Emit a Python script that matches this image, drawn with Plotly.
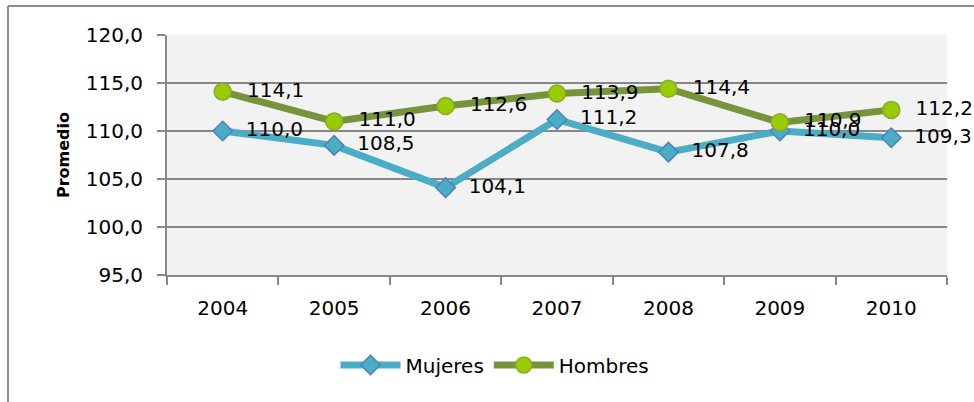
import plotly.graph_objects as go

years = ["2004", "2005", "2006", "2007", "2008", "2009", "2010"]
mujeres = [110.0, 108.5, 104.1, 111.2, 107.8, 110.0, 109.3]
hombres = [114.1, 111.0, 112.6, 113.9, 114.4, 110.9, 112.2]
y_ticks = [95, 100, 105, 110, 115, 120]


def fmt(v):
    return f"{v:.1f}".replace(".", ",")


FONT = "DejaVu Sans"
FS = 20

fig = go.Figure()
fig.add_trace(go.Scatter(
    x=years, y=mujeres, name="Mujeres", mode="lines+markers+text",
    line=dict(color="#4BACC6", width=7),
    marker=dict(symbol="diamond", size=15, color="#4BACC6",
                line=dict(color="#4F81BD", width=1.5)),
    text=["  " + fmt(v) for v in mujeres], textposition="middle right",
    textfont=dict(family=FONT, size=FS, color="#000000"),
    cliponaxis=False,
))
fig.add_trace(go.Scatter(
    x=years, y=hombres, name="Hombres", mode="lines+markers+text",
    line=dict(color="#77933C", width=7),
    marker=dict(symbol="circle", size=17, color="#99CC00",
                line=dict(color="#8AAA2A", width=1.5)),
    text=["  " + fmt(v) for v in hombres], textposition="middle right",
    textfont=dict(family=FONT, size=FS, color="#000000"),
    cliponaxis=False,
))

L, R, T, B = 167, 27, 35, 127
W, H = 974, 402
pw, ph = W - L - R, H - T - B


def px(xp):
    return (xp - L) / pw


def py(yp):
    return (H - B - yp) / ph


fig.update_layout(
    width=W, height=H,
    margin=dict(l=L, r=R, t=T, b=B),
    paper_bgcolor="white", plot_bgcolor="#F2F2F2",
    font=dict(family=FONT, size=FS, color="#000000"),
    separators=",.",
    showlegend=True,
    legend=dict(orientation="h", x=px(495), xanchor="center", y=py(365), yanchor="middle",
                font=dict(family=FONT, size=FS), itemwidth=60, bgcolor="rgba(0,0,0,0)"),
    xaxis=dict(type="category", range=[-0.5, 6.5], tickson="boundaries",
               ticks="outside", ticklen=8, tickcolor="#878787", tickwidth=2,
               showline=True, linecolor="#878787", linewidth=2,
               showgrid=False, tickfont=dict(family=FONT, size=FS),
               ticklabelstandoff=14),
    yaxis=dict(range=[95, 120], tickvals=y_ticks,
               ticktext=[fmt(v) for v in y_ticks],
               ticks="outside", ticklen=8, tickcolor="#878787", tickwidth=2,
               showline=True, linecolor="#878787", linewidth=2,
               showgrid=True, gridcolor="#878787", gridwidth=2,
               zeroline=False, tickfont=dict(family=FONT, size=FS),
               ticklabelstandoff=10,
               title=dict(text="<b>Promedio</b>", font=dict(family=FONT, size=16), standoff=12)),
    shapes=[
        dict(type="line", xref="paper", yref="paper", x0=px(8), x1=px(974), y0=py(6), y1=py(6),
             line=dict(color="#8C8C8C", width=2)),
        dict(type="line", xref="paper", yref="paper", x0=px(8), x1=px(8), y0=py(6), y1=py(402),
             line=dict(color="#8C8C8C", width=2)),
    ],
)

fig.write_html("out.html", config={"displayModeBar": False},
               post_script="document.body.style.margin='0';")
